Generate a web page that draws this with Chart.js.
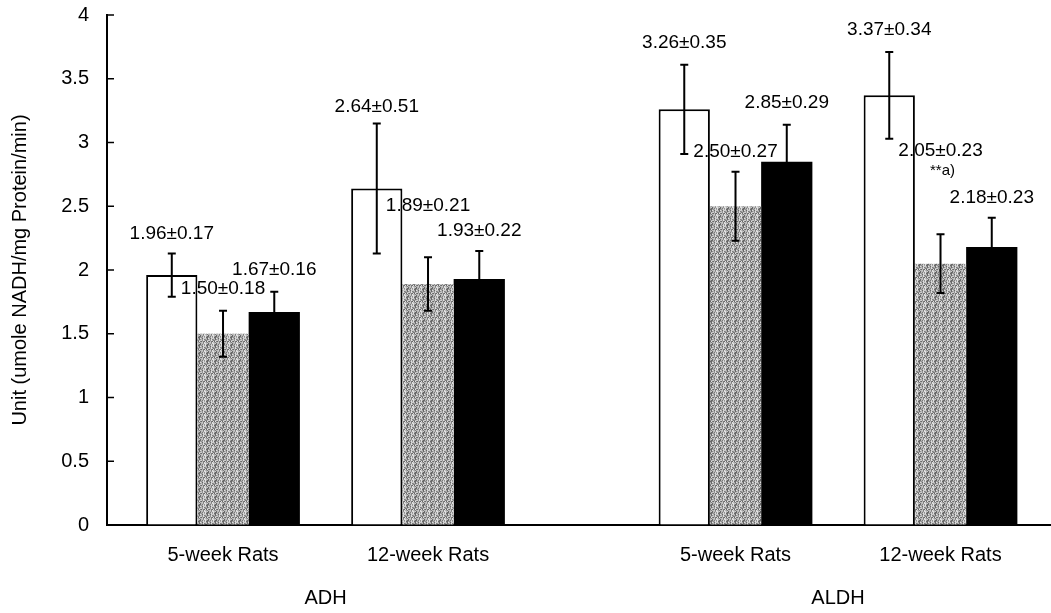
<!DOCTYPE html>
<html lang="en">
<head>
  <meta charset="UTF-8">
  <title>ADH / ALDH activity</title>
  <script src="https://cdn.jsdelivr.net/npm/chart.js"></script>
  <style>
    body {
      margin: 0;
      background: #fff;
    }
    .wrap {
      width: 1051px;
      height: 613px;
      position: relative;
    }
  </style>
</head>
<body>
  <div class="wrap">
    <canvas id="chart"></canvas>
  </div>

  <script>
    // data
    const groups = ['5-week Rats', '12-week Rats', '5-week Rats', '12-week Rats'];
    const enzymes = ['ADH', 'ALDH'];

    const whiteMean = [1.96, 2.64, 3.26, 3.37];
    const whiteSd = [0.17, 0.51, 0.35, 0.34];
    const greyMean = [1.50, 1.89, 2.50, 2.05];
    const greySd = [0.18, 0.21, 0.27, 0.23];
    const blackMean = [1.67, 1.93, 2.85, 2.18];
    const blackSd = [0.16, 0.22, 0.29, 0.23];

    const yTicks = [0, 0.5, 1, 1.5, 2, 2.5, 3, 3.5, 4];
    const yTitle = 'Unit (umole NADH/mg Protein/min)';
    const sigNote = '**a)';

    // ADH pair, a gap, then the ALDH pair
    const xPos = groups.map((g, i) => i + (i >= 2 ? 0.5 : 0));

    // speckled grey fill (fixed hash texture, like the scanned stipple)
    function stipple() {
      const n = 8;
      const c = document.createElement('canvas');
      c.width = n; c.height = n;
      const g = c.getContext('2d');
      for (let r = 0; r < n; r++) {
        for (let k = 0; k < n; k++) {
          const h = ((r * 73856093) ^ (k * 19349663) ^ (r * k * 83492791)) >>> 0;
          const v = 0x68 + (h % 7) * 20;
          g.fillStyle = 'rgb(' + v + ',' + v + ',' + v + ')';
          g.fillRect(k, r, 1, 1);
        }
      }
      return g.createPattern(c, 'repeat');
    }

    const series = [
      { mean: whiteMean, sd: whiteSd, bg: '#ffffff', border: 2 },
      { mean: greyMean, sd: greySd, bg: stipple(), border: 0 },
      { mean: blackMean, sd: blackSd, bg: '#000000', border: 0 }
    ];

    // how far above the error cap each label sits (px), per series / group
    const lift = [
      [20, 17, 22, 22],
      [22, 51, 20, 84],
      [22, 20, 22, 20]
    ];

    const font = '"Liberation Sans", Arial, sans-serif';

    const extras = {
      id: 'extras',
      afterDatasetsDraw(chart) {
        const { ctx, scales: { x, y } } = chart;
        ctx.save();
        ctx.strokeStyle = '#000';
        ctx.fillStyle = '#000';
        ctx.lineWidth = 2;
        ctx.textAlign = 'center';
        ctx.textBaseline = 'middle';

        series.forEach((s, di) => {
          const meta = chart.getDatasetMeta(di);
          meta.data.forEach((bar, j) => {
            const hi = y.getPixelForValue(s.mean[j] + s.sd[j]);
            const lo = y.getPixelForValue(s.mean[j] - s.sd[j]);
            ctx.beginPath();
            ctx.moveTo(bar.x, hi); ctx.lineTo(bar.x, lo);
            ctx.moveTo(bar.x - 4, hi); ctx.lineTo(bar.x + 4, hi);
            ctx.moveTo(bar.x - 4, lo); ctx.lineTo(bar.x + 4, lo);
            ctx.stroke();
          });
        });

        ctx.font = '19px ' + font;
        series.forEach((s, di) => {
          const meta = chart.getDatasetMeta(di);
          meta.data.forEach((bar, j) => {
            const hi = y.getPixelForValue(s.mean[j] + s.sd[j]);
            const ty = hi - lift[di][j];
            ctx.fillText(s.mean[j].toFixed(2) + '\u00b1' + s.sd[j].toFixed(2), bar.x, ty);
            if (di === 1 && j === 3) {
              ctx.font = '15px ' + font;
              ctx.fillText(sigNote, bar.x + 2, ty + 21);
              ctx.font = '19px ' + font;
            }
          });
        });

        // inward tick marks on the y axis
        ctx.lineWidth = 1.5;
        yTicks.forEach(v => {
          const py = y.getPixelForValue(v);
          ctx.beginPath();
          ctx.moveTo(y.right, py);
          ctx.lineTo(y.right + 7, py);
          ctx.stroke();
        });

        // enzyme names under each pair of groups
        ctx.font = '20px ' + font;
        enzymes.forEach((name, k) => {
          const mid = (xPos[2 * k] + xPos[2 * k + 1]) / 2;
          ctx.fillText(name, x.getPixelForValue(mid), 598);
        });
        ctx.restore();
      }
    };

    // tick gap is done with an invisible tick length so it does not pad the chart area
    const hiddenGrid = {
      display: true,
      drawOnChartArea: false,
      drawTicks: true,
      tickLength: 18,
      color: 'rgba(0,0,0,0)',
      tickColor: 'rgba(0,0,0,0)'
    };

    new Chart(document.getElementById('chart'), {
      type: 'bar',
      data: {
        datasets: series.map((s, di) => ({
          label: 'series ' + (di + 1),
          data: s.mean.map((v, j) => ({ x: xPos[j], y: v })),
          backgroundColor: s.bg,
          borderColor: '#000',
          borderWidth: s.border,
          categoryPercentage: 0.75,
          barPercentage: 1.0
        }))
      },
      options: {
        responsive: true,
        maintainAspectRatio: false,
        animation: false,
        layout: { padding: { top: 15, right: 0, bottom: 0, left: 0 } },
        plugins: {
          legend: { display: false },
          tooltip: { enabled: false }
        },
        scales: {
          x: {
            type: 'linear',
            offset: false,
            min: -0.566,
            max: 4.039,
            afterBuildTicks: s => { s.ticks = xPos.map(v => ({ value: v })); },
            afterFit: s => { s.height = 88; },
            ticks: {
              autoSkip: false,
              maxRotation: 0,
              padding: 0,
              color: '#000',
              font: { family: font, size: 20 },
              callback: (v, i) => groups[i]
            },
            grid: hiddenGrid,
            border: { display: true, color: '#000', width: 2 }
          },
          y: {
            min: 0,
            max: 4,
            afterBuildTicks: s => { s.ticks = yTicks.map(v => ({ value: v })); },
            afterFit: s => { s.width = 107; },
            ticks: {
              padding: 0,
              color: '#000',
              font: { family: font, size: 20 },
              callback: v => String(v)
            },
            grid: hiddenGrid,
            border: { display: true, color: '#000', width: 2 },
            title: {
              display: true,
              text: yTitle,
              color: '#000',
              font: { family: font, size: 20 },
              padding: { top: 8, bottom: 0 }
            }
          }
        }
      },
      plugins: [extras]
    });
  </script>
</body>
</html>
